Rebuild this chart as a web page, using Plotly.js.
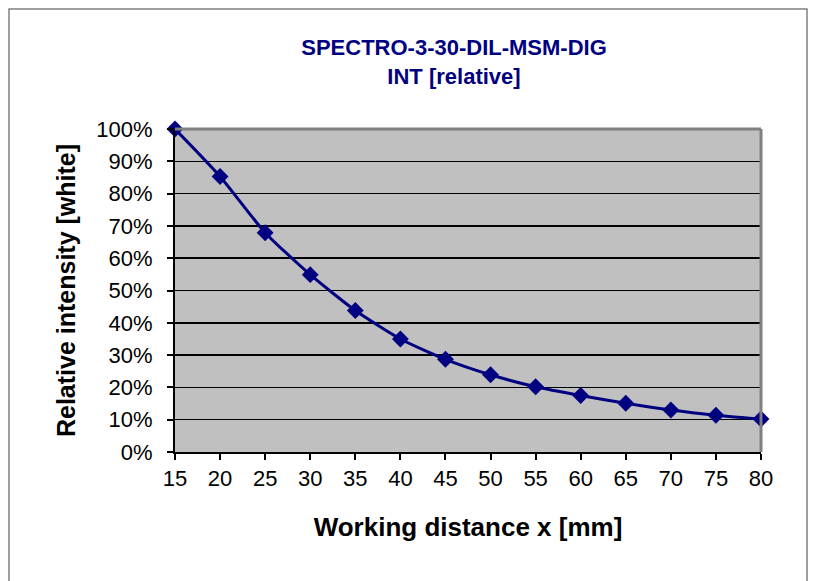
<!DOCTYPE html>
<html>
<head>
<meta charset="utf-8">
<script src="https://cdn.plot.ly/plotly-3.0.1.min.js"></script>
<style>html,body{margin:0;padding:0;background:#fff;}#chart{width:818px;height:581px;}</style>
</head>
<body>
<div id="chart"></div>
<script>
var distances = [15, 20, 25, 30, 35, 40, 45, 50, 55, 60, 65, 70, 75, 80];
var intensity = [1.00, 0.853, 0.679, 0.549, 0.438, 0.350, 0.287, 0.239, 0.202, 0.175, 0.151, 0.130, 0.114, 0.102];
var yTickVals = [0, 0.1, 0.2, 0.3, 0.4, 0.5, 0.6, 0.7, 0.8, 0.9, 1.0];
var yTickText = ['0%', '10%', '20%', '30%', '40%', '50%', '60%', '70%', '80%', '90%', '100%'];

var L = 175, R = 761, T = 129, B = 452, W = 818, H = 581;
var pw = R - L, ph = B - T;
function px(x) { return (x - L) / pw; }
function py(y) { return (B - y) / ph; }

var trace = {
  x: distances,
  y: intensity,
  type: 'scatter',
  mode: 'lines+markers',
  line: {color: '#000080', width: 3, shape: 'spline', smoothing: 0.6},
  marker: {symbol: 'diamond', size: 13, color: '#000080'},
  cliponaxis: false,
  hoverinfo: 'x+y'
};

var layout = {
  width: W, height: H,
  margin: {l: L, r: W - R, t: T, b: H - B, pad: 0},
  paper_bgcolor: '#ffffff',
  plot_bgcolor: '#c0c0c0',
  showlegend: false,
  font: {family: 'Liberation Sans, Arial, sans-serif', color: '#000000', size: 22},
  title: {
    text: '<b>SPECTRO-3-30-DIL-MSM-DIG<br>INT [relative]</b>',
    font: {family: 'Liberation Sans, Arial, sans-serif', size: 22, color: '#000080'},
    x: 454 / W, xanchor: 'center',
    y: 1 - 55 / H, yanchor: 'middle'
  },
  xaxis: {
    range: [15, 80],
    tickmode: 'linear', tick0: 15, dtick: 5,
    showgrid: false, zeroline: false,
    showline: true, linecolor: '#000000', linewidth: 2,
    ticks: 'outside', ticklen: 6, tickwidth: 2, tickcolor: '#000000',
    tickfont: {size: 22},
    title: {text: '<b>Working distance x [mm]</b>', font: {size: 26}, standoff: 27}
  },
  yaxis: {
    range: [0, 1],
    tickvals: yTickVals, ticktext: yTickText,
    showgrid: true, gridcolor: '#000000', gridwidth: 1.5,
    zeroline: false,
    showline: true, linecolor: '#000000', linewidth: 2,
    ticks: 'outside', ticklen: 6, tickwidth: 2, tickcolor: '#000000',
    ticklabelstandoff: 10,
    tickfont: {size: 22},
    title: {text: '<b>Relative intensity [white]</b>', font: {size: 25}, standoff: 14}
  },
  shapes: [
    {type: 'line', xref: 'paper', yref: 'paper', x0: 0, x1: 1, y0: 1, y1: 1,
     line: {color: '#808080', width: 3}, layer: 'above'},
    {type: 'line', xref: 'paper', yref: 'paper', x0: 1, x1: 1, y0: 0, y1: 1,
     line: {color: '#808080', width: 3}, layer: 'above'},
    {type: 'rect', xref: 'paper', yref: 'paper',
     x0: px(9), x1: px(807), y0: py(9), y1: py(590),
     line: {color: '#808080', width: 1.5}, fillcolor: 'rgba(0,0,0,0)', layer: 'below'}
  ]
};

Plotly.newPlot('chart', [trace], layout, {displayModeBar: false, staticPlot: true});
</script>
</body>
</html>
